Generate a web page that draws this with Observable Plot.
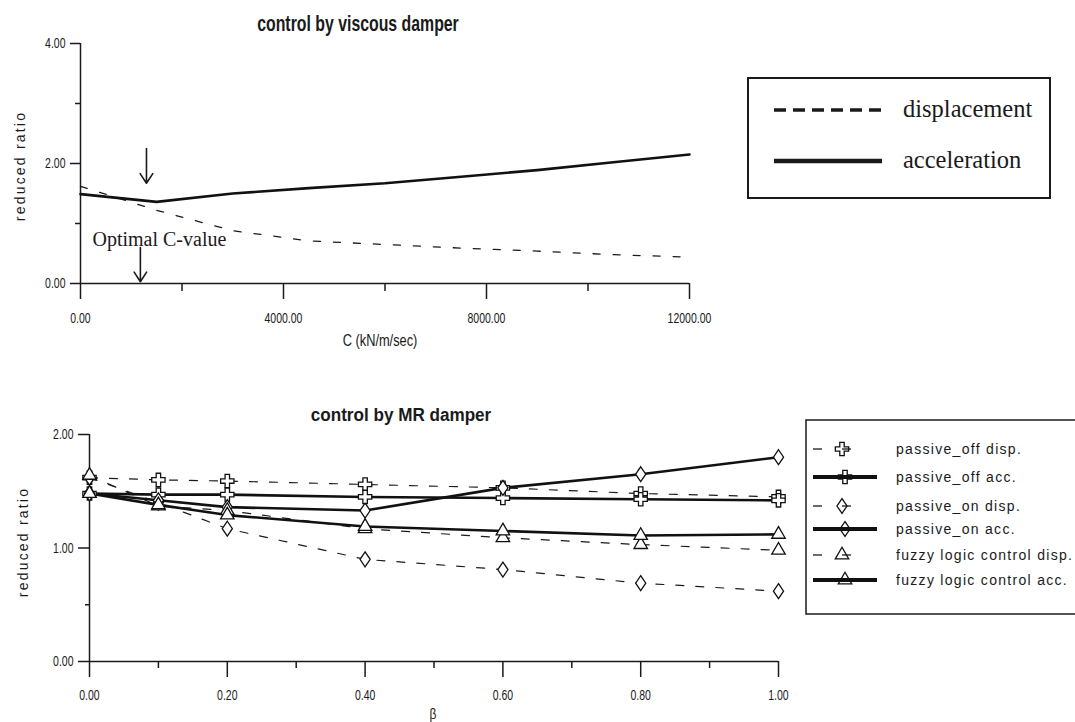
<!DOCTYPE html>
<html><head><meta charset="utf-8">
<script src="https://cdn.jsdelivr.net/npm/d3@7"></script>
<script src="https://cdn.jsdelivr.net/npm/@observablehq/plot@0.6"></script>
<style>
body{margin:0;background:#fff;}
#wrap{position:relative;width:1075px;height:722px;overflow:hidden;background:#fff;}
.abs{position:absolute;white-space:nowrap;color:#1a1a1a;font-family:"Liberation Sans",Arial,sans-serif;line-height:1;}
.title{font-weight:bold;}
.ylab{font-size:14px;letter-spacing:2.2px;}
</style></head><body><div id="wrap"></div>
<script>
// ---------- data: viscous damper ----------
const cValues     = [0, 1500, 3000, 4500, 6000, 7500, 9000, 10500, 12000];
const viscousDisp = [1.62, 1.22, 0.88, 0.71, 0.65, 0.59, 0.54, 0.48, 0.44];
const viscousAcc  = [1.49, 1.36, 1.50, 1.59, 1.67, 1.78, 1.89, 2.02, 2.15];
const topXTicks = [0, 4000, 8000, 12000];
const topXMinor = [2000, 6000, 10000];
const topYTicks = [0, 2, 4];
const topYMinor = [1, 3];
const optimalArrows = [{c: 1300, from: 2.25, to: 1.67}, {c: 1180, from: 0.60, to: 0.03}];
const optimalLabel = [{c: 236, v: 0.74, text: "Optimal C-value"}];

// ---------- data: MR damper ----------
const betaValues     = [0, 0.1, 0.2, 0.4, 0.6, 0.8, 1.0];
const passiveOffDisp = [1.62, 1.60, 1.59, 1.56, 1.53, 1.48, 1.45];
const passiveOffAcc  = [1.48, 1.47, 1.47, 1.45, 1.44, 1.43, 1.42];
const passiveOnDisp  = [1.62, 1.40, 1.17, 0.90, 0.81, 0.69, 0.62];
const passiveOnAcc   = [1.48, 1.42, 1.36, 1.33, 1.53, 1.65, 1.80];
const fuzzyDisp      = [1.64, 1.37, 1.33, 1.17, 1.09, 1.03, 0.98];
const fuzzyAcc       = [1.48, 1.38, 1.29, 1.19, 1.15, 1.11, 1.12];
const botXTicks = [0, 0.2, 0.4, 0.6, 0.8, 1.0];
const botXMinor = [0.1, 0.3, 0.5, 0.7, 0.9];
const botYTicks = [0, 1, 2];
const botYMinor = [0.5, 1.5];
const seriesNames = ["passive_off disp.", "passive_off acc.", "passive_on disp.", "passive_on acc.", "fuzzy logic control disp.", "fuzzy logic control acc."];
const seriesSymbols = ["cross", "cross", "diamond", "diamond", "triangle", "triangle"];
const seriesDashed = [true, false, true, false, true, false];
const seriesValues = [passiveOffDisp, passiveOffAcc, passiveOnDisp, passiveOnAcc, fuzzyDisp, fuzzyAcc];

const fmt = d3.format(".2f");
const sansFont = '"Liberation Sans",Arial,sans-serif';
const serifFont = '"Liberation Serif","Times New Roman",serif';
const ink = "#1a1a1a";

// wider diamond than d3's default
const wideDiamond = {
  draw(ctx, size) {
    const y = Math.sqrt(size / 1.36), x = y * 0.68;
    ctx.moveTo(0, -y); ctx.lineTo(x, 0); ctx.lineTo(0, y); ctx.lineTo(-x, 0); ctx.closePath();
  }
};
const symObj = {cross: d3.symbolCross, diamond: wideDiamond, triangle: d3.symbolTriangle};
const symR = {cross: 5.6, diamond: 4.9, triangle: 5.0};

const wrap = document.getElementById("wrap");
function place(el, left, top) {
  el.style.position = "absolute"; el.style.left = left + "px"; el.style.top = top + "px";
  wrap.appendChild(el); return el;
}
function label(text, cls, left, top, extra) {
  const d = document.createElement("div");
  d.className = "abs " + cls; d.textContent = text;
  Object.assign(d.style, extra || {});
  return place(d, left, top);
}
// condense axis tick labels horizontally (no narrow font installed)
function condenseTicks(svg, sx) {
  d3.select(svg).selectAll("g[aria-label$='tick label'] text").each(function () {
    const t = this.getAttribute("transform");
    if (t && t.includes("translate")) {
      this.setAttribute("transform", t + ` scale(${sx},1)`);
    } else {
      const x = +(this.getAttribute("x") || 0), y = +(this.getAttribute("y") || 0);
      this.removeAttribute("x"); this.removeAttribute("y");
      this.setAttribute("transform", `translate(${x},${y}) scale(${sx},1)` + (t ? " " + t : ""));
    }
  });
}

// ---------- top chart ----------
const topRows = cValues.map((c, i) => ({c, disp: viscousDisp[i], acc: viscousAcc[i]}));
const topPlot = Plot.plot({
  width: 740, height: 360,
  marginLeft: 80, marginRight: 51, marginTop: 43, marginBottom: 77,
  x: {domain: [0, 12000]},
  y: {domain: [0, 4]},
  style: {fontFamily: sansFont, fontSize: "15px", color: ink, background: "transparent", overflow: "visible"},
  marks: [
    Plot.axisY({ticks: topYTicks, tickSize: 10, tickPadding: 5, tickFormat: fmt, label: null, strokeWidth: 1.5}),
    Plot.axisY({ticks: topYMinor, tickSize: 5, text: null, label: null, strokeWidth: 1.5}),
    Plot.axisX({ticks: topXTicks, tickSize: 16, tickPadding: 13, tickFormat: fmt, label: null, strokeWidth: 1.5}),
    Plot.axisX({ticks: topXMinor, tickSize: 8, text: null, label: null, strokeWidth: 1.5}),
    Plot.ruleX([0], {stroke: ink, strokeWidth: 1.5}),
    Plot.ruleY([0], {stroke: ink, strokeWidth: 1.5}),
    Plot.line(topRows, {x: "c", y: "disp", stroke: ink, strokeWidth: 1.3, strokeDasharray: "7,13"}),
    Plot.line(topRows, {x: "c", y: "acc", stroke: "#111", strokeWidth: 2.6}),
    Plot.arrow(optimalArrows, {x1: "c", x2: "c", y1: "from", y2: "to", stroke: ink, strokeWidth: 1.6, headLength: 12, headAngle: 66}),
    Plot.text(optimalLabel, {x: "c", y: "v", text: "text", textAnchor: "start", fontFamily: serifFont, fontSize: 20, fill: ink})
  ]
});
condenseTicks(topPlot, 0.7);
place(topPlot, 0, 0);

label("control by viscous damper", "title", 358, 13, {fontSize: "22px", transform: "translateX(-50%) scaleX(0.72)"});
label("C (kN/m/sec)", "", 380, 333, {fontSize: "16px", transform: "translateX(-50%) scaleX(0.8)"});
label("reduced ratio", "ylab", 20, 166, {transform: "translate(-50%,-50%) rotate(-90deg)"});

// top legend
(function () {
  const svg = d3.create("svg").attr("width", 310).attr("height", 130);
  svg.append("rect").attr("x", 1).attr("y", 1).attr("width", 302).attr("height", 120)
    .attr("fill", "white").attr("stroke", ink).attr("stroke-width", 2);
  const items = [{t: "displacement", dash: "12,7", y: 33}, {t: "acceleration", dash: null, y: 84}];
  items.forEach(it => {
    svg.append("line").attr("x1", 27).attr("x2", 135).attr("y1", it.y).attr("y2", it.y)
      .attr("stroke", ink).attr("stroke-width", it.dash ? 3.5 : 4.5).attr("stroke-dasharray", it.dash);
    svg.append("text").attr("x", 156).attr("y", it.y + 7).text(it.t)
      .attr("font-family", serifFont).attr("font-size", 24.5).attr("fill", ink);
  });
  place(svg.node(), 747, 77);
})();

// ---------- bottom chart ----------
const botRows = seriesNames.flatMap((name, s) => betaValues.map((b, i) => ({
  series: name, beta: b, ratio: seriesValues[s][i], symbol: seriesSymbols[s], dashed: seriesDashed[s]
})));
const dotMark = sym => Plot.dot(botRows.filter(d => d.symbol === sym), {
  x: "beta", y: "ratio", symbol: symObj[sym], r: symR[sym], fill: "white", stroke: "#111", strokeWidth: 1.3
});
const botPlot = Plot.plot({
  width: 800, height: 302,
  marginLeft: 89, marginRight: 22, marginTop: 14, marginBottom: 61,
  x: {domain: [0, 1]},
  y: {domain: [0, 2]},
  style: {fontFamily: sansFont, fontSize: "15px", color: ink, background: "transparent", overflow: "visible"},
  marks: [
    Plot.axisY({ticks: botYTicks, tickSize: 11, tickPadding: 5, tickFormat: fmt, label: null, strokeWidth: 1.5}),
    Plot.axisY({ticks: botYMinor, tickSize: 4, text: null, label: null, strokeWidth: 1.5}),
    Plot.axisX({ticks: botXTicks, tickSize: 16, tickPadding: 12, tickFormat: fmt, label: null, strokeWidth: 1.5}),
    Plot.axisX({ticks: botXMinor, tickSize: 7, text: null, label: null, strokeWidth: 1.5}),
    Plot.ruleX([0], {stroke: ink, strokeWidth: 1.5}),
    Plot.ruleY([0], {stroke: ink, strokeWidth: 1.5}),
    Plot.line(botRows.filter(d => d.dashed), {x: "beta", y: "ratio", z: "series", stroke: ink, strokeWidth: 1.2, strokeDasharray: "8,12"}),
    Plot.line(botRows.filter(d => !d.dashed), {x: "beta", y: "ratio", z: "series", stroke: "#111", strokeWidth: 2.6}),
    dotMark("cross"), dotMark("diamond"), dotMark("triangle")
  ]
});
condenseTicks(botPlot, 0.7);
place(botPlot, 0, 420);

label("control by MR damper", "title", 401, 406, {fontSize: "18px", transform: "translateX(-50%) scaleX(0.95)"});
label("β", "", 433, 706, {fontSize: "15px", transform: "translateX(-50%) scaleX(0.8)"});
label("reduced ratio", "ylab", 23, 542, {transform: "translate(-50%,-50%) rotate(-90deg)"});

// bottom legend
(function () {
  const rowsY = [30, 58, 87, 110, 136, 161];
  const svg = d3.create("svg").attr("width", 280).attr("height", 200);
  svg.append("rect").attr("x", 1).attr("y", 1).attr("width", 300).attr("height", 194)
    .attr("fill", "white").attr("stroke", ink).attr("stroke-width", 1.5);
  seriesNames.forEach((name, i) => {
    const y = rowsY[i], sym = seriesSymbols[i], size = Math.PI * symR[sym] * symR[sym];
    const path = d3.symbol(symObj[sym], size)();
    if (seriesDashed[i]) {
      svg.append("line").attr("x1", 8).attr("x2", 17).attr("y1", y).attr("y2", y).attr("stroke", ink).attr("stroke-width", 1.3);
      svg.append("path").attr("d", path).attr("transform", `translate(37,${y})`).attr("fill", "white").attr("stroke", "#111").attr("stroke-width", 1.3);
      svg.append("line").attr("x1", 37).attr("x2", 46).attr("y1", y).attr("y2", y).attr("stroke", ink).attr("stroke-width", 1.3);
    } else {
      svg.append("path").attr("d", path).attr("transform", `translate(40,${y})`).attr("fill", "white").attr("stroke", "#111").attr("stroke-width", 1.3);
      svg.append("line").attr("x1", 8).attr("x2", 72).attr("y1", y).attr("y2", y).attr("stroke", "#111").attr("stroke-width", 4);
    }
    svg.append("text").attr("x", 91).attr("y", y + 5).text(name)
      .attr("font-family", sansFont).attr("font-size", 14).attr("letter-spacing", 1.3).attr("fill", ink);
  });
  place(svg.node(), 805, 419);
})();
</script>
</body></html>
